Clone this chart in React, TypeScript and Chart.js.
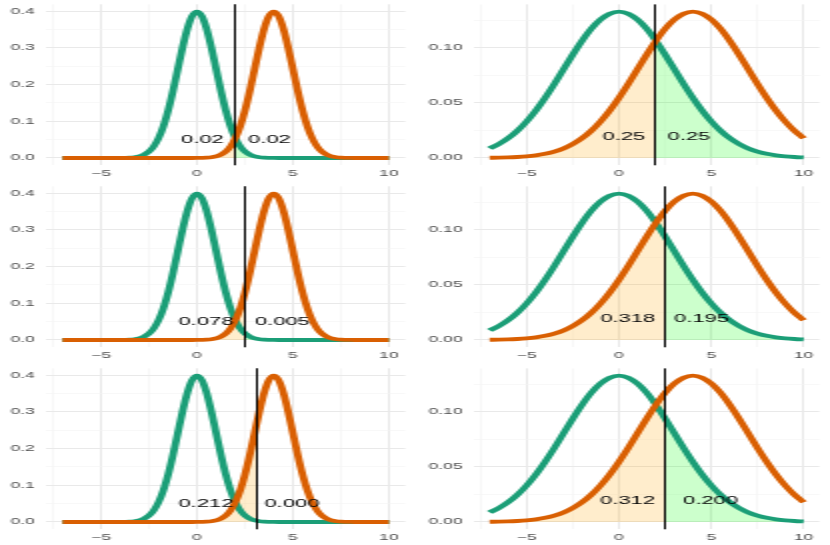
import React, { useEffect, useRef } from 'react';
import { Chart, registerables } from 'chart.js';

Chart.register(...registerables);

// ---------- data ----------
const X_NARROW = [-7, -6.75, -6.5, -6.25, -6, -5.75, -5.5, -5.25, -5, -4.75, -4.5, -4.25, -4, -3.75, -3.5, -3.25, -3, -2.75, -2.5, -2.25, -2, -1.75, -1.5, -1.25, -1, -0.75, -0.5, -0.25, 0, 0.25, 0.5, 0.75, 1, 1.25, 1.5, 1.75, 2, 2.25, 2.5, 2.75, 3, 3.25, 3.5, 3.75, 4, 4.25, 4.5, 4.75, 5, 5.25, 5.5, 5.75, 6, 6.25, 6.5, 6.75, 7, 7.25, 7.5, 7.75, 8, 8.25, 8.5, 8.75, 9, 9.25, 9.5, 9.75, 10];

const GREEN_NARROW = [
  0, 0, 0, 0, 0, 0, 0, 0, 0, 0, 0, 0,
  0.0001, 0.0004, 0.0009, 0.0020, 0.0044, 0.0091, 0.0175, 0.0317, 0.0540, 0.0863, 0.1295, 0.1826, 0.2420, 0.3011, 0.3521, 0.3867, 0.3989,
  0.3867, 0.3521, 0.3011, 0.2420, 0.1826, 0.1295, 0.0863, 0.0540, 0.0317, 0.0175, 0.0091, 0.0044, 0.0020, 0.0009, 0.0004, 0.0001,
  0, 0, 0, 0, 0, 0, 0, 0, 0, 0, 0, 0, 0, 0, 0, 0, 0, 0, 0, 0, 0, 0, 0, 0,
];

const ORANGE_NARROW = [
  0, 0, 0, 0, 0, 0, 0, 0, 0, 0, 0, 0, 0, 0, 0, 0, 0, 0, 0, 0, 0, 0, 0, 0, 0, 0, 0, 0,
  0.0001, 0.0004, 0.0009, 0.0020, 0.0044, 0.0091, 0.0175, 0.0317, 0.0540, 0.0863, 0.1295, 0.1826, 0.2420, 0.3011, 0.3521, 0.3867, 0.3989,
  0.3867, 0.3521, 0.3011, 0.2420, 0.1826, 0.1295, 0.0863, 0.0540, 0.0317, 0.0175, 0.0091, 0.0044, 0.0020, 0.0009, 0.0004, 0.0001,
  0, 0, 0, 0, 0, 0, 0, 0,
];

const X_WIDE = [-7, -6.5, -6, -5.5, -5, -4.5, -4, -3.5, -3, -2.5, -2, -1.5, -1, -0.5, 0, 0.5, 1, 1.5, 2, 2.5, 3, 3.5, 4, 4.5, 5, 5.5, 6, 6.5, 7, 7.5, 8, 8.5, 9, 9.5, 10];

const GREEN_WIDE = [
  0.0087, 0.0127, 0.0180, 0.0248, 0.0332, 0.0432, 0.0547, 0.0673, 0.0807, 0.0940, 0.1065, 0.1174, 0.1258, 0.1311, 0.1330,
  0.1311, 0.1258, 0.1174, 0.1065, 0.0940, 0.0807, 0.0673, 0.0547, 0.0432, 0.0332, 0.0248, 0.0180, 0.0127, 0.0087, 0.0058,
  0.0038, 0.0024, 0.0015, 0.0009, 0.0005,
];

const ORANGE_WIDE = [
  0.0002, 0.0003, 0.0005, 0.0009, 0.0015, 0.0024, 0.0038, 0.0058, 0.0087, 0.0127, 0.0180, 0.0248, 0.0332, 0.0432, 0.0547,
  0.0673, 0.0807, 0.0940, 0.1065, 0.1174, 0.1258, 0.1311, 0.1330, 0.1311, 0.1258, 0.1174, 0.1065, 0.0940, 0.0807, 0.0673,
  0.0547, 0.0432, 0.0332, 0.0248, 0.0180,
];

const THRESH_NARROW = [2, 2.55, 3.17];
const THRESH_WIDE = [2, 2.54, 2.5];

const TXT_NARROW_LEFT = ['0.02', '0.078', '0.212'];
const TXT_NARROW_RIGHT = ['0.02', '0.005', '0.000'];
const TXT_WIDE_LEFT = ['0.25', '0.318', '0.312'];
const TXT_WIDE_RIGHT = ['0.25', '0.195', '0.200'];

const TXT_X_NARROW_LEFT = [0.29, 0.47, 0.47];
const TXT_X_NARROW_RIGHT = [3.78, 4.45, 4.95];
const TXT_X_WIDE_LEFT = [0.27, 0.48, 0.47];
const TXT_X_WIDE_RIGHT = [3.79, 4.47, 4.96];
const TXT_Y_NARROW = 0.049;
const TXT_Y_WIDE = 0.0195;

const X_TICKS = [-7.5, -5, -2.5, 0, 2.5, 5, 7.5, 10];
const X_TICK_LABELS = ['', '\u22125', '', '0', '', '5', '', '10'];
const Y_TICKS_NARROW = [0, 0.05, 0.1, 0.15, 0.2, 0.25, 0.3, 0.35, 0.4];
const Y_LABELS_NARROW = ['0.0', '', '0.1', '', '0.2', '', '0.3', '', '0.4'];
const Y_TICKS_WIDE = [0, 0.025, 0.05, 0.075, 0.1, 0.125];
const Y_LABELS_WIDE = ['0.00', '', '0.05', '', '0.10', ''];

// ---------- style ----------
const GREEN = '#1b9e77';
const ORANGE = '#d95f02';
const GREEN_FILL = 'rgba(0,255,0,0.2)';
const ORANGE_FILL = 'rgba(255,165,0,0.2)';
const GRID_MAJOR = '#e9e9e9';
const GRID_MINOR = '#f3f3f3';
const FONT = '"Liberation Sans", Arial, Helvetica, sans-serif';

type PanelProps = {
  left: number; top: number; width: number; height: number;
  xs: number[]; green: number[]; orange: number[];
  thr: number; txtL: string; txtR: string; posL: number; posR: number; txtY: number;
  yMin: number; yMax: number; yTicks: number[]; yLabels: string[];
  yAxisW: number; padTop: number; padRight: number; bottom: number;
};

function Panel(p: PanelProps) {
  const ref = useRef<HTMLCanvasElement | null>(null);
  useEffect(() => {
    if (!ref.current) return;
    const xAxisH = p.height - p.bottom;
    const shade = {
      id: 'shade',
      beforeDatasetsDraw(chart: any) {
        const ctx = chart.ctx;
        const area = chart.chartArea;
        const xs = chart.scales.x;
        const ys = chart.scales.y;
        const px = xs.getPixelForValue(p.thr);
        const y0 = ys.getPixelForValue(0);
        const draw = (idx: number, color: string, l: number, r: number) => {
          const meta = chart.getDatasetMeta(idx);
          const line = meta.dataset;
          if (!line || !line.points || !line.points.length) return;
          line.updateControlPoints(area, 'x');
          const pts = line.points;
          ctx.save();
          ctx.beginPath();
          ctx.rect(l, area.top, r - l, area.bottom - area.top);
          ctx.clip();
          ctx.beginPath();
          line.path(ctx);
          ctx.lineTo(pts[pts.length - 1].x, y0);
          ctx.lineTo(pts[0].x, y0);
          ctx.closePath();
          ctx.fillStyle = color;
          ctx.fill();
          ctx.restore();
        };
        draw(0, ORANGE_FILL, area.left, px);
        draw(1, GREEN_FILL, px, area.right);
      },
      afterDatasetsDraw(chart: any) {
        const ctx = chart.ctx;
        const area = chart.chartArea;
        const xs = chart.scales.x;
        const ys = chart.scales.y;
        const px = Math.floor(xs.getPixelForValue(p.thr)) + 0.5;
        ctx.save();
        ctx.strokeStyle = '#000';
        ctx.lineWidth = 1;
        ctx.beginPath();
        ctx.moveTo(px, area.top);
        ctx.lineTo(px, area.bottom);
        ctx.stroke();
        ctx.fillStyle = '#000';
        ctx.font = `11px ${FONT}`;
        ctx.textAlign = 'center';
        ctx.textBaseline = 'middle';
        const ty = ys.getPixelForValue(p.txtY);
        ctx.fillText(p.txtL, xs.getPixelForValue(p.posL), ty);
        ctx.fillText(p.txtR, xs.getPixelForValue(p.posR), ty);
        ctx.restore();
      },
    };
    const line = (data: number[], color: string) => ({
      data: p.xs.map((x, i) => ({ x, y: data[i] })),
      borderColor: color,
      backgroundColor: color,
      borderWidth: 3.8,
      pointRadius: 0,
      fill: false,
      cubicInterpolationMode: 'monotone' as const,
      borderCapStyle: 'butt' as const,
    });
    const chart = new Chart(ref.current, {
      type: 'line',
      data: {
        datasets: [line(p.orange, ORANGE), line(p.green, GREEN)],
      },
      options: {
        animation: false,
        responsive: false,
        devicePixelRatio: 1,
        layout: { padding: { left: 0, top: p.padTop, right: p.padRight, bottom: 0 } },
        plugins: { legend: { display: false }, tooltip: { enabled: false } },
        events: [],
        scales: {
          x: {
            type: 'linear',
            min: -7.85,
            max: 10.85,
            afterBuildTicks: (s: any) => { s.ticks = X_TICKS.map((v) => ({ value: v })); },
            afterFit: (s: any) => {
              s.height = xAxisH;
              s.paddingLeft = 0; s.paddingRight = 0; s.paddingTop = 0; s.paddingBottom = 0;
            },
            grid: {
              drawTicks: false,
              color: (c: any) => (X_TICK_LABELS[c.index] ? GRID_MAJOR : GRID_MINOR),
              lineWidth: (c: any) => (X_TICK_LABELS[c.index] ? 1 : 0.6),
            },
            border: { display: false },
            ticks: {
              autoSkip: false, maxRotation: 0, minRotation: 0, padding: 2.6,
              color: '#4d4d4d', font: { family: FONT, size: 8.8 },
              callback: (_v: any, i: number) => X_TICK_LABELS[i],
            },
          },
          y: {
            type: 'linear',
            min: p.yMin,
            max: p.yMax,
            afterBuildTicks: (s: any) => { s.ticks = p.yTicks.map((v) => ({ value: v })); },
            afterFit: (s: any) => {
              s.width = p.yAxisW;
              s.paddingLeft = 0; s.paddingRight = 0; s.paddingTop = 0; s.paddingBottom = 0;
            },
            grid: {
              drawTicks: false,
              color: (c: any) => (p.yLabels[c.index] ? GRID_MAJOR : GRID_MINOR),
              lineWidth: (c: any) => (p.yLabels[c.index] ? 1 : 0.6),
            },
            border: { display: false },
            ticks: {
              autoSkip: false, padding: 5.7,
              color: '#4d4d4d', font: { family: FONT, size: 8.8 },
              callback: (_v: any, i: number) => p.yLabels[i],
            },
          },
        },
      },
      plugins: [shade],
    } as any);
    return () => chart.destroy();
  }, []);
  return (
    <div style={{ position: 'absolute', left: p.left, top: p.top, width: p.width, height: p.height }}>
      <canvas ref={ref} width={p.width} height={p.height} />
    </div>
  );
}

const ROW_TOPS = [0, 182, 364];
const ROW_HEIGHTS = [182, 182, 181];

export default function App() {
  const panels: PanelProps[] = [];
  for (let r = 0; r < 3; r++) {
    panels.push({
      left: 0, top: ROW_TOPS[r], width: 207, height: ROW_HEIGHTS[r],
      xs: X_NARROW, green: GREEN_NARROW, orange: ORANGE_NARROW,
      thr: THRESH_NARROW[r], txtL: TXT_NARROW_LEFT[r], txtR: TXT_NARROW_RIGHT[r],
      posL: TXT_X_NARROW_LEFT[r], posR: TXT_X_NARROW_RIGHT[r], txtY: TXT_Y_NARROW,
      yMin: -0.01995, yMax: 0.41889, yTicks: Y_TICKS_NARROW, yLabels: Y_LABELS_NARROW,
      yAxisW: 23.15, padTop: 4.27, padRight: 4.35, bottom: 165.3,
    });
    panels.push({
      left: 207, top: ROW_TOPS[r], width: 208, height: ROW_HEIGHTS[r],
      xs: X_WIDE, green: GREEN_WIDE, orange: ORANGE_WIDE,
      thr: THRESH_WIDE[r], txtL: TXT_WIDE_LEFT[r], txtR: TXT_WIDE_RIGHT[r],
      posL: TXT_X_WIDE_LEFT[r], posR: TXT_X_WIDE_RIGHT[r], txtY: TXT_Y_WIDE,
      yMin: -0.00665, yMax: 0.13963, yTicks: Y_TICKS_WIDE, yLabels: Y_LABELS_WIDE,
      yAxisW: 30, padTop: 4.4, padRight: 5.3, bottom: 165.3,
    });
  }
  return (
    <div
      style={{
        position: 'absolute', left: 0, top: 0, width: 415, height: 545,
        transform: 'scaleX(2)', transformOrigin: '0 0', background: '#fff', overflow: 'hidden',
      }}
    >
      {panels.map((p, i) => (
        <Panel key={i} {...p} />
      ))}
    </div>
  );
}
